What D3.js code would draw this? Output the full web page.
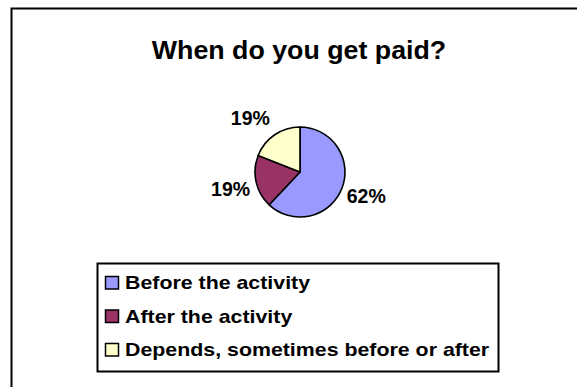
<!DOCTYPE html>
<html>
<head>
<meta charset="utf-8">
<script src="https://cdn.jsdelivr.net/npm/d3@7"></script>
<style>
  html, body { margin: 0; padding: 0; background: #fff; }
  svg { display: block; font-family: "Liberation Sans", Arial, sans-serif; }
</style>
</head>
<body>
<svg id="chart" width="577" height="387"></svg>
<script>
// Survey answers: share of respondents (percent)
const categories = ["Before the activity", "After the activity", "Depends, sometimes before or after"];
const values = [62, 19, 19];
const colors = ["#9999FF", "#993366", "#FFFFCC"];
const title = "When do you get paid?";

const svg = d3.select("#chart");

// Outer chart frame (top and left edges visible)
svg.append("path")
  .attr("d", "M11.5,400 L11.5,8.5 L600,8.5")
  .attr("fill", "none")
  .attr("stroke", "#000")
  .attr("stroke-width", 2);

// Title
svg.append("g")
  .attr("transform", "translate(299,59) scale(1.03,1)")
  .append("text")
  .attr("text-anchor", "middle")
  .attr("font-size", 26)
  .attr("font-weight", "bold")
  .text(title);

// Pie
const cx = 300, cy = 172, r = 45;
const pie = d3.pie().sort(null).value(d => d)(values);
const arc = d3.arc().innerRadius(0).outerRadius(r);

const g = svg.append("g").attr("transform", `translate(${cx},${cy})`);
g.selectAll("path.slice")
  .data(pie)
  .join("path")
  .attr("class", "slice")
  .attr("d", arc)
  .attr("fill", (d, i) => colors[i])
  .attr("stroke", "#000")
  .attr("stroke-width", 1.6)
  .attr("stroke-linejoin", "round");

// Percentage labels placed just outside each slice
const labelArc = d3.arc().innerRadius(r + 22).outerRadius(r + 22);
const labelOffsets = [[4, -1], [-4, 2], [-12, 1]];
g.selectAll("text.pct")
  .data(pie)
  .join("text")
  .attr("class", "pct")
  .attr("transform", (d, i) => {
    const [x, y] = labelArc.centroid(d);
    return `translate(${x + labelOffsets[i][0]},${y + labelOffsets[i][1]})`;
  })
  .attr("text-anchor", "middle")
  .attr("dominant-baseline", "central")
  .attr("font-size", 19.5)
  .attr("font-weight", "bold")
  .text(d => d.data + "%");

// Legend
const legend = svg.append("g");
legend.append("rect")
  .attr("x", 97.5).attr("y", 263.5)
  .attr("width", 401).attr("height", 108)
  .attr("fill", "#fff")
  .attr("stroke", "#000")
  .attr("stroke-width", 2);

const rows = legend.selectAll("g.row")
  .data(categories)
  .join("g")
  .attr("class", "row")
  .attr("transform", (d, i) => `translate(0,${283 + i * 33.5})`);

rows.append("rect")
  .attr("x", 105.5).attr("y", -6.5)
  .attr("width", 13).attr("height", 12.5)
  .attr("fill", (d, i) => colors[i])
  .attr("stroke", "#000")
  .attr("stroke-width", 1.5);

rows.append("g")
  .attr("transform", "translate(125,0) scale(1.22,1)")
  .append("text")
  .attr("dominant-baseline", "central")
  .attr("font-size", 17.5)
  .attr("font-weight", "bold")
  .text(d => d);
</script>
</body>
</html>
